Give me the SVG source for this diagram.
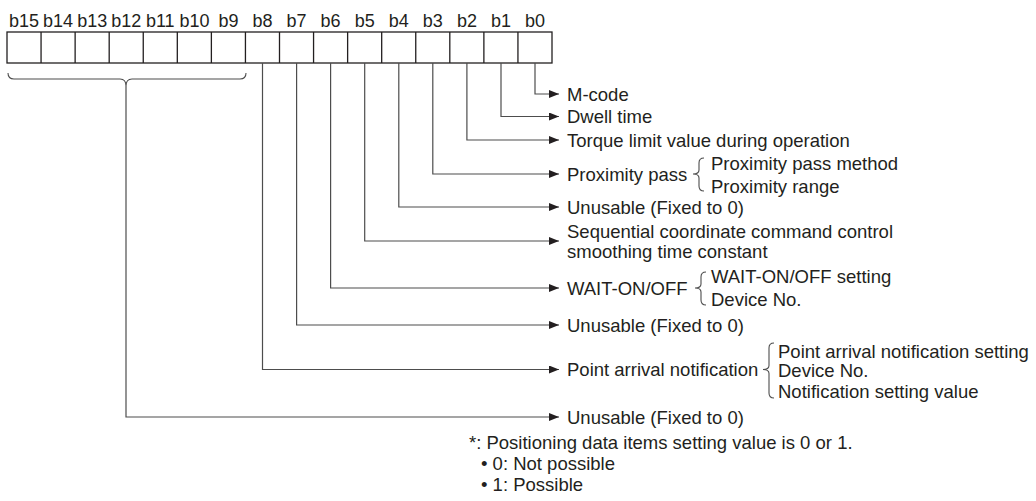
<svg xmlns="http://www.w3.org/2000/svg" width="1036" height="501" viewBox="0 0 1036 501">
<style>
text{font-family:"Liberation Sans",Arial,sans-serif;font-size:18.5px;fill:#231f20}
.lbl{text-anchor:middle;font-size:18px}
.cell{fill:#fff;stroke:#231f20;stroke-width:1.3}
.div{stroke:#231f20;stroke-width:1.3}
.con{fill:none;stroke:#4d4d4d;stroke-width:1.2}
.br{fill:none;stroke:#4d4d4d;stroke-width:1.1}
</style>
<defs>
<marker id="arr" markerUnits="userSpaceOnUse" markerWidth="10" markerHeight="8" refX="10" refY="4" orient="auto">
<path d="M0,0 L10,4 L0,8 Z" fill="#231f20"/>
</marker>
</defs>
<g id="register">
<g class="lbl-row">
<text class="lbl" x="24" y="26.5">b15</text>
<text class="lbl" x="58.1" y="26.5">b14</text>
<text class="lbl" x="92.2" y="26.5">b13</text>
<text class="lbl" x="126.2" y="26.5">b12</text>
<text class="lbl" x="160.3" y="26.5">b11</text>
<text class="lbl" x="194.4" y="26.5">b10</text>
<text class="lbl" x="228.4" y="26.5">b9</text>
<text class="lbl" x="262.5" y="26.5">b8</text>
<text class="lbl" x="296.6" y="26.5">b7</text>
<text class="lbl" x="330.6" y="26.5">b6</text>
<text class="lbl" x="364.7" y="26.5">b5</text>
<text class="lbl" x="398.8" y="26.5">b4</text>
<text class="lbl" x="432.8" y="26.5">b3</text>
<text class="lbl" x="466.9" y="26.5">b2</text>
<text class="lbl" x="501" y="26.5">b1</text>
<text class="lbl" x="535" y="26.5">b0</text>
</g>
<rect class="cell" x="7" y="32" width="545" height="31"/>
<path class="div" d="M41.06,32V63 M75.13,32V63 M109.19,32V63 M143.25,32V63 M177.31,32V63 M211.38,32V63 M245.44,32V63 M279.5,32V63 M313.56,32V63 M347.63,32V63 M381.69,32V63 M415.75,32V63 M449.81,32V63 M483.88,32V63 M517.94,32V63"/>
<path class="br" d="M8,73 Q8,79 14,79 L120,79 Q126,79 126,86 Q126,79 132,79 L240,79 Q246,79 246,73"/>
</g>
<g id="connectors">
<path class="con" marker-end="url(#arr)" d="M535,63 V94 H559"/>
<path class="con" marker-end="url(#arr)" d="M501,63 V116.5 H559"/>
<path class="con" marker-end="url(#arr)" d="M466.9,63 V140 H559"/>
<path class="con" marker-end="url(#arr)" d="M432.8,63 V174 H559"/>
<path class="con" marker-end="url(#arr)" d="M398.8,63 V207 H559"/>
<path class="con" marker-end="url(#arr)" d="M364.7,63 V241 H559"/>
<path class="con" marker-end="url(#arr)" d="M330.6,63 V288 H559"/>
<path class="con" marker-end="url(#arr)" d="M296.6,63 V325 H559"/>
<path class="con" marker-end="url(#arr)" d="M262.5,63 V369.5 H559"/>
<path class="con" marker-end="url(#arr)" d="M126,86 V417 H559"/>
</g>
<g id="b0"><text x="567" y="100.5">M-code</text></g>
<g id="b1"><text x="567" y="123">Dwell time</text></g>
<g id="b2"><text x="567" y="146.5">Torque limit value during operation</text></g>
<g id="b3">
<text x="567" y="180.5">Proximity pass</text>
<path class="br" d="M704,158 Q699,158 699,163 L699,170 Q699,174 693,174 Q699,174 699,178 L699,186 Q699,191 704,191"/>
<text x="711" y="169.5">Proximity pass method</text>
<text x="711" y="192.5">Proximity range</text>
</g>
<g id="b4"><text x="567" y="213.5">Unusable (Fixed to 0)</text></g>
<g id="b5">
<text x="567" y="237.5">Sequential coordinate command control</text>
<text x="567" y="257.5">smoothing time constant</text>
</g>
<g id="b6">
<text x="567" y="294.5">WAIT-ON/OFF</text>
<path class="br" d="M706,272 Q701,272 701,277 L701,284 Q701,288 695,288 Q701,288 701,292 L701,300 Q701,305 706,305"/>
<text x="711" y="283">WAIT-ON/OFF setting</text>
<text x="711" y="306">Device No.</text>
</g>
<g id="b7"><text x="567" y="331.5">Unusable (Fixed to 0)</text></g>
<g id="b8">
<text x="567" y="376">Point arrival notification</text>
<path class="br" d="M774,343 Q769,343 769,348 L769,365.5 Q769,369.5 763,369.5 Q769,369.5 769,373.5 L769,393 Q769,398 774,398"/>
<text x="778" y="357.5">Point arrival notification setting</text>
<text x="778" y="377">Device No.</text>
<text x="778" y="397.5">Notification setting value</text>
</g>
<g id="b9-b15"><text x="567" y="423.5">Unusable (Fixed to 0)</text></g>
<g id="note">
<text x="469" y="448.5">*: Positioning data items setting value is 0 or 1.</text>
<text x="481" y="469.5">• 0: Not possible</text>
<text x="481" y="490.5">• 1: Possible</text>
</g>
</svg>
